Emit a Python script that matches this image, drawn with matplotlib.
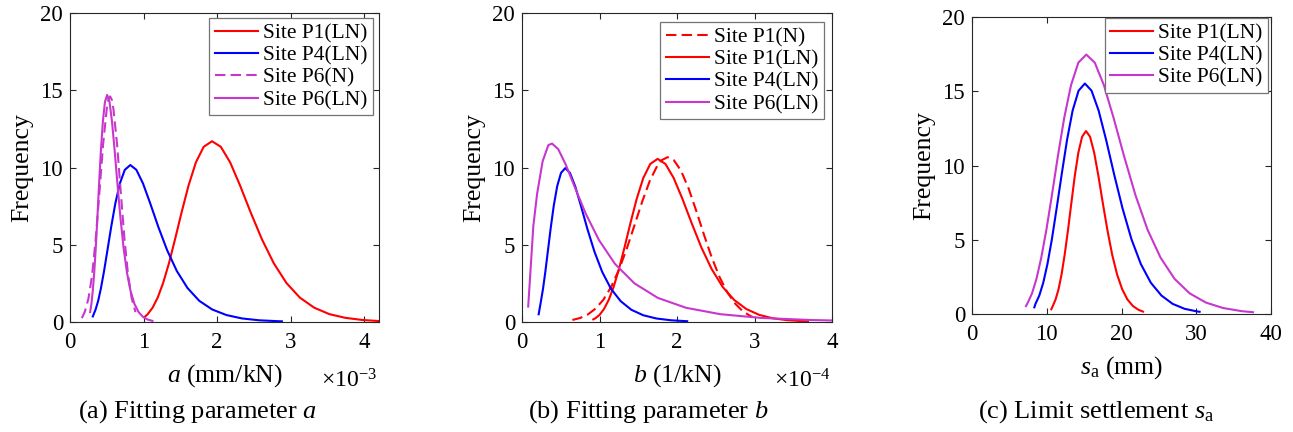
import matplotlib
matplotlib.use('Agg')
from matplotlib import pyplot as plt

plt.rcParams['font.family'] = ['Liberation Serif', 'DejaVu Serif']
plt.rcParams['mathtext.fontset'] = 'custom'
plt.rcParams['mathtext.rm'] = 'Liberation Serif'
plt.rcParams['mathtext.it'] = 'Liberation Serif:italic'

RED = '#ff0000'
BLUE = '#0000ff'
MAG = '#c837cd'

# (a) fitting parameter a, x in units of 1e-3 mm/kN
a_p1_x = [1.01, 1.057, 1.123, 1.192, 1.266, 1.345, 1.428, 1.517, 1.611, 1.711, 1.817, 1.93,
          2.050, 2.177, 2.312, 2.455, 2.608, 2.770, 2.941, 3.124, 3.318, 3.524, 3.742,
          3.974, 4.19]
a_p1_y = [0.31, 0.51, 0.93, 1.58, 2.53, 3.80, 5.36, 7.10, 8.83, 10.33, 11.34, 11.7,
          11.34, 10.33, 8.83, 7.10, 5.36, 3.80, 2.53, 1.58, 0.93, 0.51, 0.27, 0.13, 0.065]
a_p4_x = [0.31, 0.348, 0.383, 0.421, 0.463, 0.509, 0.560, 0.616, 0.678, 0.745, 0.82,
          0.902, 0.992, 1.091, 1.200, 1.320, 1.452, 1.597, 1.757, 1.933, 2.126, 2.338,
          2.572, 2.829, 2.88]
a_p4_y = [0.36, 0.81, 1.37, 2.20, 3.30, 4.65, 6.16, 7.67, 8.97, 9.85, 10.16,
          9.85, 8.97, 7.67, 6.16, 4.65, 3.30, 2.20, 1.37, 0.81, 0.45, 0.23,
          0.11, 0.052, 0.045]
a_p6n_x = [0.16, 0.20, 0.25, 0.30, 0.35, 0.40, 0.45, 0.50, 0.52, 0.545, 0.57, 0.59, 0.64,
           0.69, 0.74, 0.79, 0.84, 0.89]
a_p6n_y = [0.25, 0.64, 1.5, 3.0, 5.4, 8.4, 11.5, 13.8, 14.37, 14.6, 14.37, 13.8, 11.5,
           8.4, 5.4, 3.0, 1.5, 0.64]
a_p6_x = [0.274, 0.291, 0.309, 0.329, 0.350, 0.372, 0.395, 0.420, 0.447, 0.475, 0.505,
          0.537, 0.571, 0.607, 0.645, 0.686, 0.729, 0.775, 0.824, 0.876, 0.932, 0.991,
          1.053, 1.12]
a_p6_y = [0.645, 1.17, 1.99, 3.18, 4.77, 6.73, 8.92, 11.10, 12.97, 14.25, 14.7,
          14.25, 12.97, 11.10, 8.92, 6.73, 4.77, 3.18, 1.99, 1.17, 0.645, 0.335,
          0.163, 0.075]

# (b) fitting parameter b, x in units of 1e-4 1/kN
b_p1n_x = [0.65, 0.75, 0.85, 0.95, 1.05, 1.15, 1.25, 1.35, 1.45, 1.55, 1.65, 1.75, 1.80,
           1.88, 1.96, 2.05, 2.15, 2.25, 2.35, 2.45, 2.55, 2.65, 2.75, 2.85, 2.95, 2.98]
b_p1n_y = [0.13, 0.26, 0.49, 0.87, 1.44, 2.27, 3.37, 4.72, 6.24, 7.78, 9.15, 10.16, 10.47,
           10.67, 10.47, 9.81, 8.64, 7.17, 5.62, 4.15, 2.90, 1.91, 1.19, 0.69, 0.38, 0.32]
b_p1_x = [0.92, 0.946, 1.001, 1.058, 1.119, 1.183, 1.251, 1.323, 1.399, 1.480, 1.565,
          1.655, 1.75, 1.851, 1.957, 2.070, 2.189, 2.314, 2.447, 2.588, 2.737, 2.894,
          3.061, 3.236, 3.422, 3.619, 3.69]
b_p1_y = [0.17, 0.24, 0.46, 0.84, 1.43, 2.28, 3.43, 4.83, 6.40, 7.97, 9.32,
          10.23, 10.56, 10.23, 9.32, 7.97, 6.40, 4.83, 3.43, 2.28, 1.43, 0.84,
          0.46, 0.24, 0.117, 0.054, 0.045]
b_p4_x = [0.215, 0.2446, 0.2712, 0.3006, 0.3332, 0.3694, 0.4096, 0.454, 0.5033, 0.558,
          0.6186, 0.6858, 0.7603, 0.8428, 0.9344, 1.0358, 1.1483, 1.273, 1.4112, 1.5645,
          1.7343, 1.9226, 2.1314]
b_p4_y = [0.5, 1.35, 2.15, 3.23, 4.56, 6.04, 7.52, 8.79, 9.65, 9.96,
          9.65, 8.79, 7.52, 6.04, 4.56, 3.23, 2.15, 1.35, 0.79, 0.437,
          0.227, 0.111, 0.051]
b_p6_x = [0.08, 0.146, 0.195, 0.266, 0.34, 0.387, 0.4674, 0.5645, 0.6818, 0.8235, 0.9946,
          1.2013, 1.451, 1.7525, 2.1167, 2.5565, 3.0877, 3.7294, 4.0]
b_p6_y = [1.0, 6.2, 8.3, 10.4, 11.45, 11.55, 11.19, 10.19, 8.72, 7.00, 5.29,
          3.75, 2.50, 1.56, 0.92, 0.507, 0.263, 0.128, 0.10]

# (c) limit settlement s_a (mm)
c_p1_x = [10.61, 10.81, 11.18, 11.58, 11.98, 12.40, 12.84, 13.29, 13.75, 14.23, 14.73,
          15.25, 15.79, 16.34, 16.91, 17.50, 18.12, 18.75, 19.41, 20.09, 20.79, 21.52,
          22.28, 22.88]
c_p1_y = [0.32, 0.54, 0.98, 1.67, 2.66, 4.00, 5.64, 7.47, 9.30, 10.87, 11.94,
          12.32, 11.94, 10.87, 9.30, 7.47, 5.64, 4.00, 2.66, 1.67, 0.98, 0.54,
          0.28, 0.16]
c_p4_x = [8.34, 8.49, 9.00, 9.53, 10.09, 10.69, 11.32, 12.00, 12.71, 13.46, 14.26,
          15.10, 15.99, 16.94, 17.95, 19.01, 20.14, 21.33, 22.59, 23.93, 25.35, 26.85,
          28.44, 30.13, 30.45]
c_p4_y = [0.45, 0.68, 1.24, 2.10, 3.36, 5.04, 7.11, 9.41, 11.71, 13.70, 15.04,
          15.52, 15.04, 13.70, 11.71, 9.41, 7.11, 5.04, 3.36, 2.10, 1.24, 0.68,
          0.35, 0.17, 0.15]
c_p6_x = [7.22, 7.47, 8.03, 8.62, 9.26, 9.95, 10.69, 11.48, 12.33, 13.25, 14.23,
          15.29, 16.42, 17.64, 18.95, 20.36, 21.87, 23.49, 25.24, 27.11, 29.12, 31.29,
          33.61, 36.10, 37.6]
c_p6_y = [0.53, 0.77, 1.39, 2.36, 3.78, 5.67, 8.00, 10.60, 13.19, 15.42, 16.93,
          17.47, 16.93, 15.42, 13.19, 10.60, 8.00, 5.67, 3.78, 2.36, 1.39, 0.77,
          0.40, 0.19, 0.12]

W, H = 1293, 432
fig = plt.figure(figsize=(W / 100, H / 100), dpi=100)


def px_axes(left, right, top, bottom):
    return fig.add_axes([left / W, (H - bottom) / H, (right - left) / W, (bottom - top) / H])


def style(ax, xlim, xticks, xlabel):
    ax.set_xlim(*xlim)
    ax.set_ylim(0, 20)
    ax.set_xticks(xticks)
    ax.set_yticks([0, 5, 10, 15, 20])
    ax.tick_params(direction='in', top=True, right=True, length=4, width=0.8,
                   color='#262626', labelsize=16.5)
    ax.tick_params(axis='x', pad=7)
    ax.tick_params(axis='y', pad=5)
    for s in ax.spines.values():
        s.set_color('#262626')
        s.set_linewidth(0.8)
    ax.set_ylabel('Frequency', fontsize=18.5, labelpad=5)
    ax.set_xlabel(xlabel, fontsize=18.5, labelpad=7)


def legend(ax, anchor):
    leg = ax.legend(loc='upper right', bbox_to_anchor=anchor, borderaxespad=0,
                    fontsize=15.5, fancybox=False, framealpha=1, edgecolor='0.45',
                    borderpad=0.25, handletextpad=0.25, labelspacing=0.1,
                    handlelength=2.0)
    leg.get_frame().set_linewidth(0.9)


lw = 1.5
dash = (5, 2.5)

ax = px_axes(70, 379, 13, 322)
ax.plot(a_p1_x, a_p1_y, color=RED, lw=lw, label='Site P1(LN)')
ax.plot(a_p4_x, a_p4_y, color=BLUE, lw=lw, label='Site P4(LN)')
ax.plot(a_p6n_x, a_p6n_y, color=MAG, lw=lw, dashes=dash, label='Site P6(N)')
ax.plot(a_p6_x, a_p6_y, color=MAG, lw=lw, label='Site P6(LN)')
style(ax, (0, 4.2), [0, 1, 2, 3, 4], r'$a$ (mm/kN)')
legend(ax, (0.981, 0.984))

ax = px_axes(522, 832, 13, 322)
ax.plot(b_p1n_x, b_p1n_y, color=RED, lw=lw, dashes=dash, label='Site P1(N)')
ax.plot(b_p1_x, b_p1_y, color=RED, lw=lw, label='Site P1(LN)')
ax.plot(b_p4_x, b_p4_y, color=BLUE, lw=lw, label='Site P4(LN)')
ax.plot(b_p6_x, b_p6_y, color=MAG, lw=lw, label='Site P6(LN)')
style(ax, (0, 4), [0, 1, 2, 3, 4], r'$b$ (1/kN)')
legend(ax, (0.974, 0.971))

ax = px_axes(972, 1271, 17, 314)
ax.plot(c_p1_x, c_p1_y, color=RED, lw=lw, label='Site P1(LN)')
ax.plot(c_p4_x, c_p4_y, color=BLUE, lw=lw, label='Site P4(LN)')
ax.plot(c_p6_x, c_p6_y, color=MAG, lw=lw, label='Site P6(LN)')
style(ax, (0, 40), [0, 10, 20, 30, 40], r'$s_{\mathrm{a}}$ (mm)')
legend(ax, (0.991, 0.998))

# axis multipliers
fig.text(377 / W, (H - 388) / H, r'$\times10^{-3}$', fontsize=17, ha='right', va='baseline')
fig.text(830 / W, (H - 388) / H, r'$\times10^{-4}$', fontsize=17, ha='right', va='baseline')

# captions
fig.text(198 / W, (H - 412) / H, r'(a) Fitting parameter $a$', fontsize=19, ha='center', va='center')
fig.text(648 / W, (H - 412) / H, r'(b) Fitting parameter $b$', fontsize=19, ha='center', va='center')
fig.text(1096 / W, (H - 412) / H, r'(c) Limit settlement $s_{\mathrm{a}}$', fontsize=19,
         ha='center', va='center')

fig.savefig('out.png', dpi=100)
